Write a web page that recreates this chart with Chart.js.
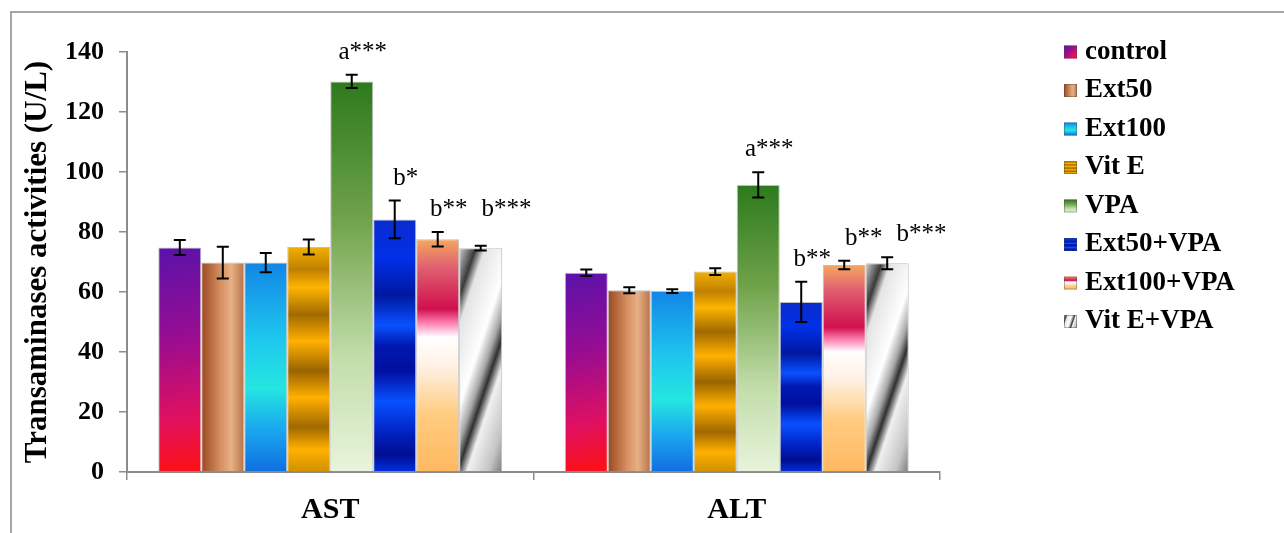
<!DOCTYPE html>
<html>
<head>
<meta charset="utf-8">
<script src="https://cdn.jsdelivr.net/npm/chart.js@4"></script>
<style>
  html, body { margin: 0; padding: 0; background: #fff; }
  canvas { display: block; }
</style>
</head>
<body>
<canvas id="myChart" width="1284" height="533"></canvas>
<script>
  // groups on the x axis
  const categories = ['AST', 'ALT'];
  const seriesNames = ['control', 'Ext50', 'Ext100', 'Vit E', 'VPA', 'Ext50+VPA', 'Ext100+VPA', 'Vit E+VPA'];

  // means (U/L), one entry per series
  const astMeans = [74.8, 69.8, 69.8, 75.0, 130.2, 84.2, 77.6, 74.6];
  const altMeans = [66.4, 60.6, 60.3, 66.8, 95.7, 56.7, 69.0, 69.6];
  // error bars (+/-)
  const astErrors = [2.5, 5.3, 3.2, 2.5, 2.2, 6.3, 2.4, 0.8];
  const altErrors = [1.1, 1.0, 0.6, 1.1, 4.2, 6.7, 1.4, 2.0];
  // significance marks
  const astMarks = ['', '', '', '', 'a***', 'b*', 'b**', 'b***'];
  const altMarks = ['', '', '', '', 'a***', 'b**', 'b**', 'b***'];

  const yTicks = [0, 20, 40, 60, 80, 100, 120, 140];

  const catPct = 0.846;
  const serif = "'Liberation Serif', 'Times New Roman', serif";

  // fills, roughly copying the textured excel bars
  const fills = [
    { dir: 'd', stops: [[0, '#5a12aa'], [0.4, '#980c92'], [0.75, '#e01060'], [1, '#ff1010']] },
    { dir: 'h', stops: [[0, '#9a4820'], [0.45, '#d69062'], [0.7, '#e8b084'], [1, '#b4724a']] },
    { dir: 'v', stops: [[0, '#1286e6'], [0.35, '#1ec4ee'], [0.6, '#24e6e0'], [0.8, '#1aa6f0'], [1, '#106ee0']] },
    { dir: 'v', stops: [[0, '#f2b000'], [0.1, '#c08000'], [0.18, '#ffb400'], [0.3, '#a06a00'], [0.42, '#ffb000'],
                        [0.55, '#9a6400'], [0.67, '#ffb000'], [0.8, '#a06800'], [0.9, '#ffb000'], [1, '#d09000']] },
    { dir: 'v', stops: [[0, '#2c7a1c'], [0.35, '#6fa24a'], [0.7, '#c1dca8'], [1, '#e8f4dc']] },
    { dir: 'v', stops: [[0, '#0a2ccc'], [0.15, '#0030e8'], [0.3, '#0018a0'], [0.42, '#0a50ff'], [0.5, '#0018b0'],
                        [0.6, '#0010a0'], [0.72, '#0850ff'], [0.85, '#0020c0'], [0.93, '#000e90'], [1, '#0030e0']] },
    { dir: 'v', stops: [[0, '#f5a860'], [0.12, '#e06070'], [0.3, '#d0104e'], [0.36, '#ff80b0'], [0.42, '#ffffff'],
                        [0.55, '#fff0e4'], [0.75, '#ffcc80'], [1, '#ffb860']] },
    { dir: 's', stops: [[0, '#d0d0d0'], [0.14, '#3a3a3a'], [0.22, '#e4e4e4'], [0.45, '#ffffff'], [0.55, '#a8a8a8'],
                        [0.62, '#303030'], [0.7, '#f0f0f0'], [0.88, '#c4c4c4'], [1, '#7a7a7a']] }
  ];

  function paint(ctx, f, l, t, r, b) {
    let g;
    if (f.dir === 'h') g = ctx.createLinearGradient(l, 0, r, 0);
    else if (f.dir === 'v') g = ctx.createLinearGradient(0, t, 0, b);
    else if (f.dir === 'd') g = ctx.createLinearGradient(l, t, r, b);
    else {
      const s = (3 * (r - l) + (b - t)) / 10;
      g = ctx.createLinearGradient(l, t, l + 3 * s, t + s);
    }
    f.stops.forEach(st => g.addColorStop(st[0], st[1]));
    return g;
  }

  function barFill(c) {
    const chart = c.chart;
    const f = fills[c.datasetIndex];
    if (!chart.chartArea || !chart.scales.x) return f.stops[1][1];
    const xs = chart.scales.x, ys = chart.scales.y;
    const groupW = xs.width / categories.length * catPct;
    const bw = groupW / seriesNames.length;
    const l = xs.getPixelForValue(c.dataIndex) - groupW / 2 + c.datasetIndex * bw;
    const t = ys.getPixelForValue(c.raw);
    const b = ys.getPixelForValue(0);
    return paint(chart.ctx, f, l, t, l + bw, b);
  }

  const datasets = seriesNames.map((name, i) => ({
    label: name,
    data: [astMeans[i], altMeans[i]],
    errors: [astErrors[i], altErrors[i]],
    marks: [astMarks[i], altMarks[i]],
    backgroundColor: barFill,
    borderColor: 'rgba(70,70,70,0.35)',
    borderWidth: 1
  }));

  // outer frame
  const framePlugin = {
    id: 'frame',
    beforeDraw(chart) {
      const ctx = chart.ctx;
      ctx.save();
      ctx.strokeStyle = '#a6a6a6';
      ctx.lineWidth = 2;
      ctx.strokeRect(11, 12, 1400, 600);
      ctx.restore();
    }
  };

  // error bars and significance letters
  const errorPlugin = {
    id: 'errors',
    afterDatasetsDraw(chart) {
      const ctx = chart.ctx;
      const ys = chart.scales.y;
      ctx.save();
      ctx.font = '25px ' + serif;
      categories.forEach((cat, i) => {
        let prevRight = -1e9, prevY = 0;
        chart.data.datasets.forEach((ds, di) => {
          const bar = chart.getDatasetMeta(di).data[i];
          const v = ds.data[i], e = ds.errors[i];
          const top = ys.getPixelForValue(v + e);
          const bot = ys.getPixelForValue(v - e);
          ctx.strokeStyle = '#000';
          ctx.lineWidth = 2;
          ctx.beginPath();
          ctx.moveTo(bar.x, top); ctx.lineTo(bar.x, bot);
          ctx.moveTo(bar.x - 6, top); ctx.lineTo(bar.x + 6, top);
          ctx.moveTo(bar.x - 6, bot); ctx.lineTo(bar.x + 6, bot);
          ctx.stroke();
          const txt = ds.marks[i];
          if (!txt) return;
          const w = ctx.measureText(txt).width;
          let y = top - 16;
          let left = bar.x + 11 - w / 2;
          // keep neighbouring letters apart
          if (Math.abs(y - prevY) < 22 && left < prevRight + 14) {
            left = prevRight + 14;
            y = Math.min(y, prevY);
          }
          ctx.fillStyle = '#000';
          ctx.textAlign = 'left';
          ctx.textBaseline = 'alphabetic';
          ctx.fillText(txt, left, y);
          prevRight = left + w;
          prevY = y;
        });
      });
      ctx.restore();
    }
  };

  // legend on the right
  const legendPlugin = {
    id: 'sideLegend',
    afterDraw(chart) {
      const ctx = chart.ctx;
      ctx.save();
      chart.data.datasets.forEach((ds, i) => {
        const cy = 52 + i * 38.5;
        ctx.fillStyle = paint(ctx, fills[i], 1064, cy - 6.5, 1077, cy + 6.5);
        ctx.fillRect(1064, cy - 6.5, 13, 13);
        ctx.strokeStyle = 'rgba(70,70,70,0.4)';
        ctx.lineWidth = 1;
        ctx.strokeRect(1064.5, cy - 6, 12, 12);
        ctx.fillStyle = '#000';
        ctx.font = 'bold 27px ' + serif;
        ctx.textAlign = 'left';
        ctx.textBaseline = 'middle';
        ctx.fillText(ds.label, 1085, cy);
      });
      ctx.restore();
    }
  };

  const ctx = document.getElementById('myChart');
  new Chart(ctx, {
    type: 'bar',
    data: {
      labels: categories,
      datasets: datasets
    },
    options: {
      responsive: false,
      animation: false,
      devicePixelRatio: 1,
      datasets: {
        bar: { categoryPercentage: catPct, barPercentage: 1 }
      },
      layout: {
        padding: { left: 0, right: 344, top: 52, bottom: 0 }
      },
      plugins: {
        legend: { display: false },
        tooltip: { enabled: false }
      },
      scales: {
        x: {
          grid: { drawOnChartArea: false, drawTicks: true, tickLength: 8, color: '#8c8c8c', lineWidth: 1.5 },
          border: { color: '#8c8c8c', width: 2 },
          ticks: { color: '#000', font: { family: serif, size: 30, weight: 'bold' }, padding: 12 },
          afterFit: s => { s.height = 61; }
        },
        y: {
          min: 0,
          max: 140,
          afterBuildTicks: s => { s.ticks = yTicks.map(v => ({ value: v })); },
          grid: { drawOnChartArea: false, drawTicks: true, tickLength: 8, color: '#8c8c8c', lineWidth: 1.5 },
          border: { color: '#8c8c8c', width: 2 },
          ticks: { color: '#000', font: { family: serif, size: 26, weight: 'bold' }, padding: 15 },
          title: {
            display: true,
            text: 'Transaminases activities (U/L)',
            color: '#000',
            font: { family: serif, size: 31, weight: 'bold' },
            padding: { top: 19, bottom: 0 }
          },
          afterFit: s => { s.width = 127; }
        }
      }
    },
    plugins: [framePlugin, errorPlugin, legendPlugin]
  });
</script>
</body>
</html>
